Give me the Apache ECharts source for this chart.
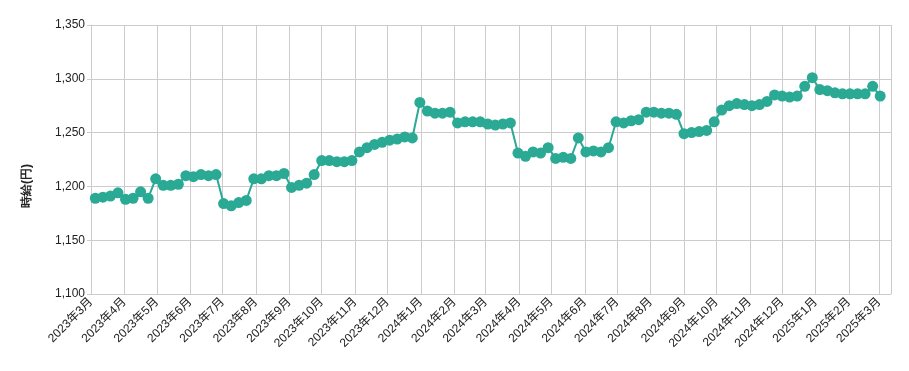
<!DOCTYPE html>
<html>
<head>
<meta charset="utf-8">
<script src="https://cdn.jsdelivr.net/npm/echarts@6/dist/echarts.min.js"></script>
<style>
html,body{margin:0;padding:0;background:#fff;}
#chart{width:909px;height:371px;}
</style>
</head>
<body>
<div id="chart"></div>
<script>
// Weekly series start date and step
const startDate = [2023, 3, 5];
const stepDays = 7;
// Hourly wage values (円), one per week
const wages = [
  1189, 1190, 1191, 1194, 1188, 1189, 1195, 1189, 1207, 1201,
  1201, 1202, 1210, 1209, 1211, 1210, 1211, 1184, 1182, 1185,
  1187, 1207, 1207, 1210, 1210, 1212, 1199, 1201, 1203, 1211,
  1224, 1224, 1223, 1223, 1224, 1232, 1236, 1239, 1241, 1243,
  1244, 1246, 1245, 1278, 1270, 1268, 1268, 1269, 1259, 1260,
  1260, 1260, 1258, 1257, 1258, 1259, 1231, 1228, 1232, 1231,
  1236, 1226, 1227, 1226, 1245, 1232, 1233, 1232, 1236, 1260,
  1259, 1261, 1262, 1269, 1269, 1268, 1268, 1267, 1249, 1250,
  1251, 1252, 1260, 1271, 1275, 1277, 1276, 1275, 1276, 1279,
  1285, 1284, 1283, 1284, 1293, 1301, 1290, 1289, 1287, 1286,
  1286, 1286, 1286, 1293, 1284
];
const xMin = '2023-03-01';
const xMax = '2025-03-12';
const yMin = 1100, yMax = 1350, yStep = 50;
const yTitle = '時給(円)';

const DAY = 86400000;
const t0 = new Date(startDate[0], startDate[1] - 1, startDate[2]).getTime();
const seriesData = wages.map((v, i) => [t0 + i * stepDays * DAY, v]);

const font = "'Liberation Sans', Arial, 'Noto Sans CJK JP', sans-serif";
const chart = echarts.init(document.getElementById('chart'), null, {renderer: 'canvas'});
chart.setOption({
  animation: false,
  grid: {left: 91, right: 18, top: 25, bottom: 77, containLabel: false},
  xAxis: {
    type: 'time',
    min: xMin,
    max: xMax,
    splitNumber: 25,
    minInterval: 28 * DAY,
    maxInterval: 31 * DAY,
    axisLine: {show: true, lineStyle: {color: '#cccccc'}},
    axisTick: {show: false},
    splitLine: {show: true, lineStyle: {color: '#cccccc', width: 1}},
    axisLabel: {
      rotate: 45,
      hideOverlap: false,
      showMinLabel: true,
      showMaxLabel: false,
      margin: 6,
      color: '#222',
      fontSize: 12,
      fontFamily: font,
      formatter: function (val) {
        const d = new Date(val);
        return d.getFullYear() + '年' + (d.getMonth() + 1) + '月';
      }
    }
  },
  yAxis: {
    type: 'value',
    min: yMin,
    max: yMax,
    interval: yStep,
    axisLine: {show: true, lineStyle: {color: '#cccccc'}},
    axisTick: {show: true, length: 4, lineStyle: {color: '#cccccc'}},
    splitLine: {show: true, lineStyle: {color: '#cccccc', width: 1}},
    axisLabel: {
      margin: 6,
      color: '#222',
      fontSize: 12,
      fontFamily: font,
      formatter: function (v) { return v.toLocaleString('en-US'); }
    }
  },
  graphic: [{
    type: 'text',
    left: 21,
    top: 164,
    rotation: Math.PI / 2,
    originX: 0, originY: 0,
    style: {
      text: yTitle,
      fontSize: 12,
      fontWeight: 'bold',
      fill: '#222',
      font: "bold 12px " + font
    }
  }],
  series: [{
    type: 'line',
    data: seriesData,
    symbol: 'circle',
    symbolSize: 11,
    showAllSymbol: true,
    lineStyle: {color: '#2aa995', width: 2},
    itemStyle: {color: '#2aa995'},
    emphasis: {disabled: true}
  }]
});
</script>
</body>
</html>
